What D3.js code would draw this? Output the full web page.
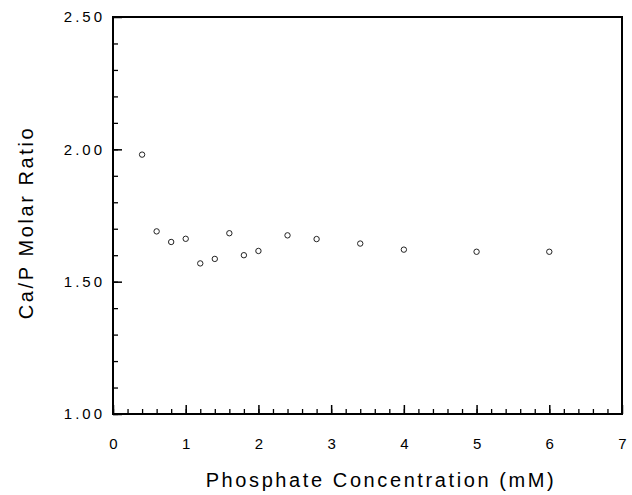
<!DOCTYPE html>
<html>
<head>
<meta charset="utf-8">
<script src="https://cdn.jsdelivr.net/npm/d3@7"></script>
<style>
  body { margin: 0; background: #fff; }
  svg { display: block; font-family: "Liberation Sans", Arial, Helvetica, sans-serif; }
</style>
</head>
<body>
<div id="chart"></div>
<script>
// phosphate concentration (mM) and Ca/P molar ratio
const concentration = [0.4, 0.6, 0.8, 1.0, 1.2, 1.4, 1.6, 1.8, 2.0, 2.4, 2.8, 3.4, 4.0, 5.0, 6.0]
const caPRatio = [1.98, 1.69, 1.65, 1.662, 1.569, 1.586, 1.683, 1.60, 1.616, 1.675, 1.661, 1.644, 1.621, 1.613, 1.613]

const xMajorTicks = [0, 1, 2, 3, 4, 5, 6, 7]
const yMajorTicks = [1.0, 1.5, 2.0, 2.5]
const xMinorTicks = d3.range(0, 35).map(i => i / 5)
const yMinorTicks = d3.range(10, 25).map(i => i / 10)

const xTitle = "Phosphate Concentration (mM)"
const yTitle = "Ca/P Molar Ratio"

function ScatterChart({
    width = 632,
    height = 495,
    marginTop = 17,
    marginRight = 10,
    marginBottom = 81,
    marginLeft = 113
} = {}) {
    const xScale = d3.scaleLinear([0, 7], [marginLeft, width - marginRight])
    const yScale = d3.scaleLinear([1, 2.5], [height - marginBottom, marginTop])

    const svg = d3.create("svg")
        .attr("width", width)
        .attr("height", height)
        .attr("viewBox", [0, 0, width, height])

    // minor ticks (inward)
    svg.append("g")
        .attr("transform", `translate(0,${height - marginBottom})`)
        .call(d3.axisBottom(xScale).tickValues(xMinorTicks).tickSize(-5).tickFormat(""))
        .call(g => g.select(".domain").remove())
        .call(g => g.selectAll(".tick line").attr("stroke-width", 1.3))

    svg.append("g")
        .attr("transform", `translate(${marginLeft},0)`)
        .call(d3.axisLeft(yScale).tickValues(yMinorTicks).tickSize(-5).tickFormat(""))
        .call(g => g.select(".domain").remove())
        .call(g => g.selectAll(".tick line").attr("stroke-width", 1.3))

    // major ticks with labels
    svg.append("g")
        .attr("transform", `translate(0,${height - marginBottom})`)
        .call(d3.axisBottom(xScale).tickValues(xMajorTicks).tickSize(-9).tickPadding(24).tickFormat(d3.format("d")))
        .call(g => g.select(".domain").remove())
        .call(g => g.selectAll(".tick line").attr("stroke-width", 1.5))
        .call(g => g.selectAll(".tick text")
            .attr("font-size", 15)
            .attr("font-family", null)
            .attr("fill", "#000"))

    svg.append("g")
        .attr("transform", `translate(${marginLeft},0)`)
        .call(d3.axisLeft(yScale).tickValues(yMajorTicks).tickSize(-9).tickPadding(8).tickFormat(d3.format(".2f")))
        .call(g => g.select(".domain").remove())
        .call(g => g.selectAll(".tick line").attr("stroke-width", 1.5))
        .call(g => g.selectAll(".tick text")
            .attr("font-size", 15)
            .attr("font-family", null)
            .attr("letter-spacing", "3px")
            .attr("fill", "#000"))

    // frame
    svg.append("rect")
        .attr("x", marginLeft)
        .attr("y", marginTop)
        .attr("width", width - marginLeft - marginRight)
        .attr("height", height - marginTop - marginBottom)
        .attr("fill", "none")
        .attr("stroke", "#000")
        .attr("stroke-width", 2)

    // points
    svg.append("g")
        .selectAll("circle")
        .data(concentration)
        .join("circle")
        .attr("cx", d => xScale(d))
        .attr("cy", (d, i) => yScale(caPRatio[i]))
        .attr("r", 2.7)
        .attr("fill", "#fff")
        .attr("stroke", "#222")
        .attr("stroke-width", 1)

    // axis titles
    svg.append("text")
        .attr("x", 381)
        .attr("y", 487)
        .attr("text-anchor", "middle")
        .attr("font-size", 20)
        .attr("letter-spacing", "2.6px")
        .attr("fill", "#000")
        .text(xTitle)

    svg.append("text")
        .attr("transform", "translate(33,222.5) rotate(-90)")
        .attr("text-anchor", "middle")
        .attr("font-size", 20)
        .attr("letter-spacing", "2.6px")
        .attr("fill", "#000")
        .text(yTitle)

    return svg.node()
}

document.getElementById("chart").appendChild(ScatterChart())
</script>
</body>
</html>
